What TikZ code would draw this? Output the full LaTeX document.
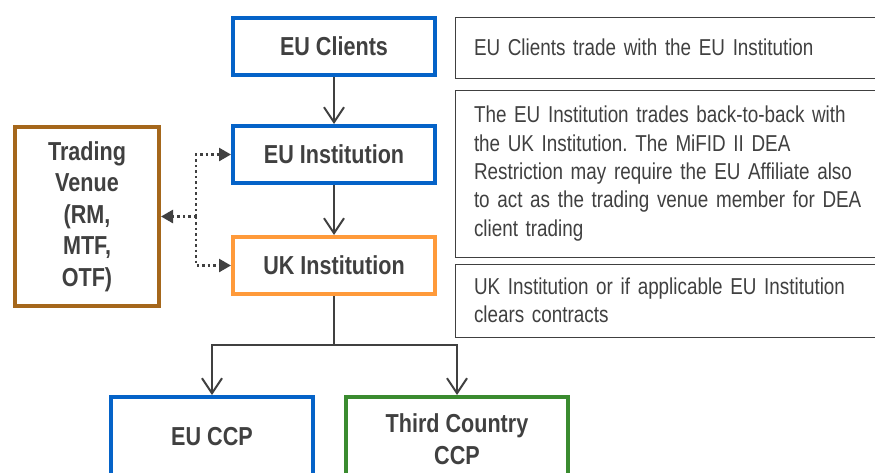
\documentclass[tikz,border=0pt]{standalone}
\usepackage{fontspec}
\setmainfont[FakeStretch=0.83]{Liberation Sans}
\newfontfamily\descfont[FakeStretch=0.82]{Liberation Sans}
\newcommand\descsetup{\descfont\fontsize{23}{28.3}\selectfont}
\frenchspacing
\usetikzlibrary{arrows.meta}
\definecolor{txt}{HTML}{404040}
\definecolor{cblue}{HTML}{0563C8}
\definecolor{corange}{HTML}{FF9A3A}
\definecolor{cbrown}{HTML}{A5671B}
\definecolor{cgreen}{HTML}{3A8B2F}
\definecolor{cline}{HTML}{404040}
\begin{document}
\begin{tikzpicture}[x=1pt,y=-1pt,
  box/.style={draw, line width=4pt, fill=white, text=txt, inner sep=0pt,
    minimum width=202pt, minimum height=57pt, align=center,
    font=\fontsize{26}{31.5}\selectfont\bfseries},
  desc/.style={draw=cline, line width=1pt, text=txt, inner xsep=19pt, inner ysep=0pt,
    anchor=west, text width=420pt, align=left, font=\descsetup},
  arr/.style={draw=cline, line width=2pt, -{Straight Barb[length=15pt,width=20pt,line width=2pt]}},
  dotarr/.style={draw=cline, line width=2.5pt, dash pattern=on 2.5pt off 3pt, -{Triangle[length=12pt,width=13pt]}}
]
\useasboundingbox (0,0) rectangle (875,472);
\clip (0,0) rectangle (875,472);
\fill[white] (0,0) rectangle (875,472);

% main boxes
\node[box, draw=cblue] (c1) at (334,46.5) {EU Clients};
\node[box, draw=cblue] (i1) at (334,154.5) {EU Institution};
\node[box, draw=corange] (uk) at (334,265.5) {UK Institution};
\node[box, draw=cbrown, minimum width=144pt, minimum height=179pt] (tv) at (87,216.5) {Trading\\Venue\\(RM,\\MTF,\\OTF)};
\node[box, draw=cblue, minimum height=110pt, text depth=0pt] (ccp1) at (212,452) {};
\node[font=\fontsize{26}{31.5}\selectfont\bfseries, text=txt] (ccp1t) at (212,437) {EU CCP};
\node[box, draw=cgreen, minimum width=222pt, minimum height=110pt] (ccp2) at (457,452) {};
\node[font=\fontsize{26}{31.5}\selectfont\bfseries, text=txt, align=center] (ccp2t) at (457,439) {Third Country\\CCP};

% description boxes
\node[desc, minimum height=61pt] (d1) at (454.5,47.5) {EU Clients trade with the EU Institution};
\node[desc, minimum height=167pt] (d2) at (454.5,173.5) {The EU Institution trades back-to-back with\\the UK Institution. The MiFID II DEA\\Restriction may require the EU Affiliate also\\to act as the trading venue member for DEA\\client trading};
\node[desc, minimum height=73pt] (d3) at (454.5,300.5) {UK Institution or if applicable EU Institution\\clears contracts};

% connectors
\draw[arr] (c1.south) -- (i1.north);
\draw[arr] (i1.south) -- (uk.north);
\coordinate (split) at (334,345);
\draw[draw=cline, line width=2pt] (uk.south) -- (split);
\draw[arr] (split) -| (ccp1.north);
\draw[arr] (split) -| (ccp2.north);

\coordinate (j) at (196,216.5);
\draw[dotarr] (j) |- (i1.west);
\draw[dotarr] (j) |- (uk.west);
\draw[dotarr] (j) -- (tv.east);
\end{tikzpicture}
\end{document}
